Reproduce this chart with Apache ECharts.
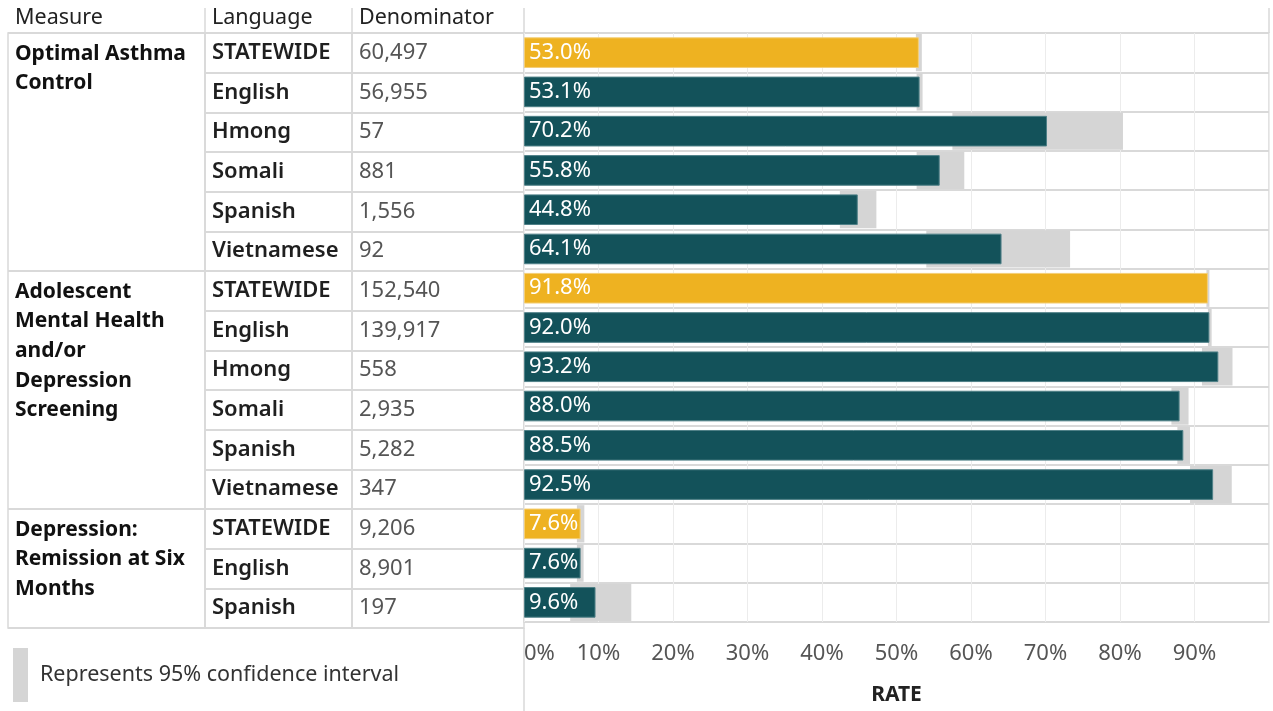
<!DOCTYPE html>
<html>
<head>
<meta charset="utf-8">
<script src="https://cdn.jsdelivr.net/npm/echarts@6/dist/echarts.min.js"></script>
<style>
  html, body { margin: 0; padding: 0; background: #fff; }
  #chart { width: 1273px; height: 711px; }
</style>
</head>
<body>
<div id="chart"></div>
<script>
// rows, top to bottom
const MEASURES = [
  "Optimal Asthma\nControl",
  "Adolescent\nMental Health\nand/or\nDepression\nScreening",
  "Depression:\nRemission at Six\nMonths",
]
const GROUP_SIZES = [6, 6, 3]
const LANGUAGES = [
  "STATEWIDE", "English", "Hmong", "Somali", "Spanish", "Vietnamese",
  "STATEWIDE", "English", "Hmong", "Somali", "Spanish", "Vietnamese",
  "STATEWIDE", "English", "Spanish",
]
const DENOMINATORS = [
  "60,497", "56,955", "57", "881", "1,556", "92",
  "152,540", "139,917", "558", "2,935", "5,282", "347",
  "9,206", "8,901", "197",
]
const RATES = [53.0, 53.1, 70.2, 55.8, 44.8, 64.1, 91.8, 92.0, 93.2, 88.0, 88.5, 92.5, 7.6, 7.6, 9.6]
const CI_LOW = [52.6, 52.7, 57.5, 52.7, 42.4, 54.0, 91.6, 91.8, 91.0, 86.9, 87.7, 89.4, 7.1, 7.1, 6.2]
const CI_HIGH = [53.4, 53.5, 80.4, 59.1, 47.3, 73.3, 92.0, 92.3, 95.1, 89.2, 89.4, 95.0, 8.1, 8.0, 14.4]
const HEADERS = ["Measure", "Language", "Denominator"]
const CI_LABEL = "Represents 95% confidence interval"

const GOLD = "#eeb221"
const TEAL = "#13525a"
const GREY = "#d5d5d5"
const LINE = "#d9d9d9"
const FONT = "Noto Sans"

const rowIds = LANGUAGES.map((_, i) => String(i))
const groupStarts = GROUP_SIZES.reduce((acc, n, i) => {
  acc.push(i === 0 ? 0 : acc[i - 1] + GROUP_SIZES[i - 1])
  return acc
}, [])

// column edges of the table + plot
const cols = [8, 205, 352, 524]
const gridTop = 33
const gridBottom = 83
const gridRight = 4
const headTop = 8

const chart = echarts.init(document.getElementById("chart"), null, { renderer: "canvas" })

const grids = [
  { left: cols[0], width: cols[1] - cols[0] },
  { left: cols[1], width: cols[2] - cols[1] },
  { left: cols[2], width: cols[3] - cols[2] },
  { left: cols[3], right: gridRight },
].map((g) => ({
  ...g,
  top: gridTop,
  bottom: gridBottom,
  show: true,
  borderColor: LINE,
  borderWidth: 1.5,
}))

const rowAxis = (gridIndex, extra) => ({
  type: "category",
  gridIndex,
  data: rowIds,
  inverse: true,
  axisLine: { show: false },
  axisTick: { show: false },
  axisLabel: { show: false },
  splitLine: { show: true, interval: 0, lineStyle: { color: LINE, width: 2 } },
  ...extra,
})

const hiddenX = (gridIndex) => ({ type: "value", gridIndex, show: false, min: 0, max: 1 })

chart.setOption({
  animation: false,
  textStyle: { fontFamily: FONT },
  grid: grids,
  xAxis: [
    hiddenX(0),
    hiddenX(1),
    hiddenX(2),
    {
      type: "value",
      gridIndex: 3,
      min: 0,
      max: 100,
      interval: 10,
      axisLine: { show: false },
      axisTick: { show: false },
      axisLabel: {
        formatter: "{value}%",
        fontSize: 22,
        color: "#555",
        margin: 21,
        showMaxLabel: false,
        alignMinLabel: "left",
      },
      splitLine: { lineStyle: { color: "#ececec", width: 1 } },
      name: "RATE",
      nameLocation: "middle",
      nameGap: 63,
      nameTextStyle: { fontSize: 21, fontWeight: "bold", color: "#222" },
    },
  ],
  yAxis: [
    rowAxis(0, {
      splitLine: {
        show: true,
        interval: (index) => groupStarts.includes(index),
        lineStyle: { color: LINE, width: 2 },
      },
    }),
    rowAxis(1, {
      axisLabel: {
        show: true,
        inside: true,
        interval: 0,
        margin: 7,
        fontSize: 22,
        fontWeight: 600,
        color: "#1f1f1f",
        formatter: (v, i) => LANGUAGES[i],
      },
    }),
    rowAxis(2, {
      axisLabel: {
        show: true,
        inside: true,
        interval: 0,
        margin: 7,
        fontSize: 22,
        color: "#555",
        formatter: (v, i) => DENOMINATORS[i],
      },
    }),
    rowAxis(3),
  ],
  legend: {
    left: 13,
    top: 648,
    padding: 0,
    itemWidth: 15,
    itemHeight: 54,
    selectedMode: false,
    data: [{ name: CI_LABEL, icon: "rect", itemStyle: { color: GREY } }],
    textStyle: { fontSize: 21.5, color: "#333", padding: [12, 0, 0, 7] },
  },
  series: [
    {
      name: CI_LABEL,
      type: "custom",
      xAxisIndex: 3,
      yAxisIndex: 3,
      z: 1,
      itemStyle: { color: GREY },
      encode: { x: [1, 2], y: 0 },
      data: RATES.map((_, i) => [i, CI_LOW[i], CI_HIGH[i]]),
      renderItem: (params, api) => {
        const a = api.coord([api.value(1), api.value(0)])
        const b = api.coord([api.value(2), api.value(0)])
        const h = api.size([0, 1])[1] * 0.95
        return {
          type: "rect",
          shape: { x: a[0], y: a[1] - h / 2, width: b[0] - a[0], height: h },
          style: { fill: GREY },
        }
      },
    },
    {
      name: "Rate",
      type: "bar",
      xAxisIndex: 3,
      yAxisIndex: 3,
      z: 2,
      barWidth: "78%",
      data: RATES.map((v, i) => ({
        value: v,
        itemStyle: {
          color: LANGUAGES[i] === "STATEWIDE" ? GOLD : TEAL,
          borderColor: LANGUAGES[i] === "STATEWIDE" ? "#f4cf78" : "#4f8087",
          borderWidth: 1,
        },
      })),
      label: {
        show: true,
        position: "insideLeft",
        distance: 5,
        color: "#fff",
        fontSize: 22,
        formatter: (p) => p.value.toFixed(1) + "%",
      },
    },
  ],
})

// headers, header column dividers and the spanning measure names
const headerLines = [cols[1], cols[2], cols[3], 1273 - gridRight].map((x) => ({
  type: "line",
  shape: { x1: x, y1: headTop, x2: x, y2: gridTop },
  style: { stroke: LINE, lineWidth: 1.5 },
}))
const axisDivider = {
  type: "line",
  shape: { x1: cols[3], y1: 711 - gridBottom, x2: cols[3], y2: 711 },
  style: { stroke: LINE, lineWidth: 1.5 },
}
const headerTexts = HEADERS.map((t, i) => ({
  type: "text",
  x: cols[i] + 7,
  y: 18,
  style: { text: t, fontSize: 21.5, fontFamily: FONT, fill: "#222", verticalAlign: "middle" },
}))
const measureTexts = MEASURES.map((t, g) => {
  const y = chart.convertToPixel({ yAxisIndex: 0 }, rowIds[groupStarts[g]])
  return {
    type: "text",
    x: cols[0] + 7,
    y: y - 14,
    style: {
      text: t,
      fontSize: 21,
      fontWeight: "bold",
      fontFamily: FONT,
      fill: "#111",
      lineHeight: 29.7,
      verticalAlign: "top",
    },
  }
})
chart.setOption({ graphic: [...headerLines, axisDivider, ...headerTexts, ...measureTexts] })
</script>
</body>
</html>
